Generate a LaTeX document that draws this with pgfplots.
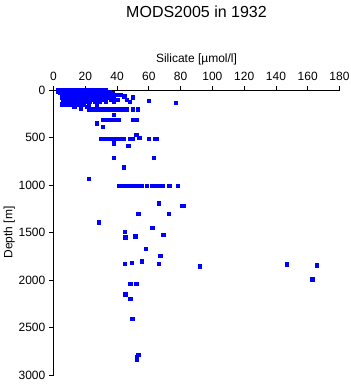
\documentclass[border=0pt]{standalone}
\usepackage{pgfplots}
\pgfplotsset{compat=1.18}
\usepackage{fontspec}
\setmainfont{Liberation Sans}
\begin{document}
\fontsize{12bp}{14bp}\selectfont
\begin{tikzpicture}
\useasboundingbox (-53.5bp,-9bp) rectangle (297.5bp,375bp);
\begin{axis}[
  at={(0,0)}, anchor=south west,
  scale only axis, width=286bp, height=285bp,
  xmin=0, xmax=180, ymin=0, ymax=3000,
  y dir=reverse,
  axis x line*=top, axis y line*=left,
  axis line style={-, line width=0.8pt},
  xtick={0,20,...,180}, ytick={0,500,...,3000},
  tick align=outside, major tick length=4bp,
  tick style={line width=0.8pt, black},
  /pgf/number format/assume math mode=true,
  /pgf/number format/set thousands separator={},
  ticklabel style={font=\fontsize{12bp}{14bp}\selectfont},
  xticklabel style={yshift=1bp},
  xlabel={Silicate [µmol/l]}, ylabel={Depth [m]},
  label style={font=\fontsize{12bp}{14bp}\selectfont},
  xlabel style={yshift=-1bp},
  ylabel style={yshift=-4.5bp},
  clip=false,
]
\addplot[only marks, mark=square*, mark size=1.65bp, mark options={draw=blue, fill=blue}] table {
x y
3 0
5 0
7 0
9 0
11 0
13 0
15 0
17 0
19 0
21 0
23 0
25 0
27 0
29 0
31 0
33 0
4 10
6 10
8 10
10 10
12 10
14 10
16 10
18 10
20 10
22 10
24 10
26 10
28 10
30 10
33 10
3 20
5 20
7 20
9 20
11 20
13 20
15 20
17 20
19 20
21 20
23 20
25 20
27 20
29 20
32 20
35 20
4 30
6 30
8 30
10 30
12 30
14 30
16 30
18 30
20 30
22 30
24 30
26 30
28 30
31 30
34 30
37 30
5 50
7 50
9 50
11 50
13 50
15 50
17 50
19 50
21 50
23 50
25 50
27 50
30 50
33 50
36 50
39 50
42 50
5 75
7 75
9 75
11 75
13 75
15 75
17 75
19 75
21 75
23 75
25 75
27 75
30 75
33 75
35 75
38 75
44 70
6 100
8 100
10 100
12 100
14 100
16 100
18 100
20 100
22 100
24 100
27 100
30 100
32 100
36 100
40 100
46 100
6 125
9 125
12 125
14 125
16 125
18 125
20 125
23 125
26 125
29 125
33 125
38 125
5 150
8 150
11 150
15 150
19 150
22 150
27 150
13 170
17 170
21 175
17 200
22 203
24 203
26 203
28 203
30 203
32 203
34 203
36 203
38 203
40 203
42 203
44 203
46 203
50 203
53 203
60 113
77 130
50 77
48 123
45 60
38 263
31 309
33 309
35 309
37 309
39 309
41 309
50 309
52 309
27 351
31 386
30 509
32 509
34 509
36 509
38 509
40 509
42 509
44 509
48 509
50 509
52 474
54 500
60 509
64 509
65 509
38 561
47 586
38 709
63 712
44 814
22 930
41 1007
43 1007
45 1007
47 1007
49 1007
51 1007
53 1007
55.5 1007
58.7 1007
62.2 1007
65.3 1007
67 1007
68.7 1007
72.3 1007
73.3 1007
78.2 1007
66 1193
80.7 1218
82 1218
53.4 1305
72.3 1305
28.6 1393
62.2 1446
44.6 1488
45.2 1551
51.5 1540
69.1 1526
58.2 1667
67.2 1747
55.3 1803
44.6 1832
49.4 1821
66.4 1828
92.2 1856
146.8 1835
165.6 1845
162.9 1993
48.3 2042
52.1 2039
45.2 2151
48.3 2200
49.6 2404
53.4 2789
52.3 2807
52.3 2842
};
\node[font=\fontsize{16bp}{18bp}\selectfont] at ([yshift=78bp]rel axis cs:0.5,1) {MODS2005 in 1932};
\end{axis}
\end{tikzpicture}
\end{document}
